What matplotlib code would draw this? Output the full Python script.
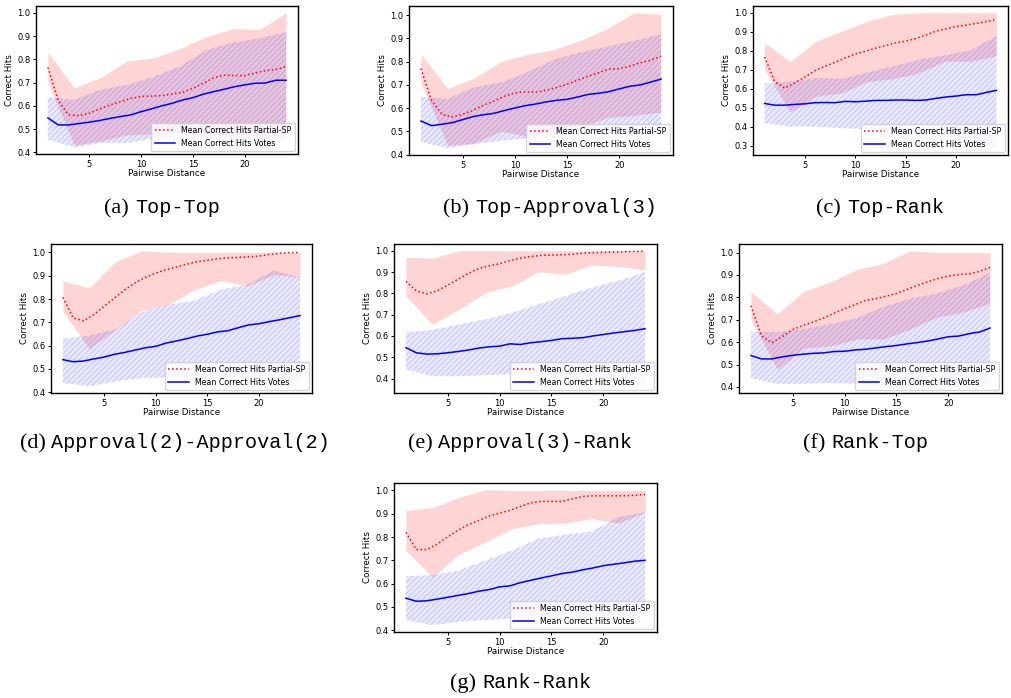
import numpy as np
import matplotlib
matplotlib.use('Agg')
import matplotlib.pyplot as plt

fig_w, fig_h = 1012, 698

distance = np.arange(1, 25)
band_distance = np.linspace(1, 24, 10)

# (a) Top-Top
a_sp_mean = [0.765, 0.622, 0.561, 0.558, 0.568, 0.587, 0.604, 0.618, 0.632, 0.640, 0.642, 0.644,
             0.651, 0.658, 0.675, 0.697, 0.720, 0.732, 0.730, 0.730, 0.741, 0.751, 0.756, 0.768]
a_sp_upper = [0.830, 0.677, 0.722, 0.793, 0.806, 0.846, 0.897, 0.932, 0.927, 1.000]
a_sp_lower = [0.700, 0.430, 0.450, 0.475, 0.480, 0.490, 0.480, 0.470, 0.460, 0.455]
a_votes_mean = [0.548, 0.518, 0.518, 0.524, 0.530, 0.537, 0.546, 0.554, 0.561, 0.575, 0.587, 0.600,
                0.611, 0.625, 0.635, 0.650, 0.661, 0.671, 0.682, 0.690, 0.697, 0.698, 0.710, 0.710]
a_votes_upper = [0.638, 0.625, 0.670, 0.690, 0.725, 0.770, 0.840, 0.872, 0.890, 0.917]
a_votes_lower = [0.455, 0.422, 0.440, 0.440, 0.460, 0.470, 0.470, 0.470, 0.470, 0.460]

# (b) Top-Approval(3)
b_sp_mean = [0.770, 0.634, 0.574, 0.562, 0.574, 0.591, 0.613, 0.631, 0.651, 0.666, 0.670, 0.669,
             0.677, 0.689, 0.703, 0.720, 0.737, 0.752, 0.768, 0.770, 0.780, 0.795, 0.806, 0.824]
b_sp_upper = [0.832, 0.684, 0.730, 0.800, 0.831, 0.852, 0.892, 0.943, 1.010, 1.003]
b_sp_lower = [0.710, 0.440, 0.450, 0.500, 0.480, 0.500, 0.520, 0.560, 0.570, 0.583]
b_votes_mean = [0.545, 0.525, 0.531, 0.538, 0.551, 0.564, 0.572, 0.578, 0.590, 0.601, 0.611, 0.618,
                0.627, 0.634, 0.638, 0.648, 0.659, 0.664, 0.671, 0.683, 0.694, 0.700, 0.712, 0.725]
b_votes_upper = [0.648, 0.640, 0.690, 0.710, 0.755, 0.810, 0.840, 0.865, 0.890, 0.918]
b_votes_lower = [0.455, 0.428, 0.445, 0.460, 0.470, 0.480, 0.490, 0.500, 0.500, 0.495]

# (c) Top-Rank
c_sp_mean = [0.767, 0.638, 0.603, 0.630, 0.661, 0.695, 0.718, 0.739, 0.762, 0.783, 0.797, 0.813,
             0.827, 0.841, 0.850, 0.864, 0.882, 0.903, 0.915, 0.928, 0.935, 0.944, 0.954, 0.965]
c_sp_upper = [0.841, 0.743, 0.850, 0.903, 0.956, 0.991, 1.000, 1.000, 1.000, 1.000]
c_sp_lower = [0.700, 0.476, 0.560, 0.577, 0.638, 0.652, 0.683, 0.744, 0.744, 0.774]
c_votes_mean = [0.522, 0.513, 0.513, 0.517, 0.520, 0.526, 0.527, 0.526, 0.533, 0.531, 0.534, 0.538,
                0.538, 0.540, 0.540, 0.538, 0.540, 0.549, 0.556, 0.561, 0.568, 0.568, 0.580, 0.591]
c_votes_upper = [0.626, 0.638, 0.656, 0.652, 0.686, 0.718, 0.753, 0.776, 0.802, 0.877]
c_votes_lower = [0.418, 0.400, 0.400, 0.392, 0.386, 0.375, 0.360, 0.335, 0.310, 0.286]

# (d) Approval(2)-Approval(2)
d_sp_mean = [0.807, 0.719, 0.706, 0.733, 0.769, 0.804, 0.840, 0.869, 0.893, 0.911, 0.926, 0.937,
             0.949, 0.960, 0.966, 0.973, 0.976, 0.979, 0.981, 0.984, 0.991, 0.996, 0.999, 0.999]
d_sp_upper = [0.879, 0.847, 0.961, 1.007, 1.000, 1.000, 1.000, 1.000, 1.000, 1.000]
d_sp_lower = [0.747, 0.587, 0.669, 0.750, 0.776, 0.840, 0.880, 0.856, 0.905, 0.893]
d_votes_mean = [0.540, 0.531, 0.534, 0.543, 0.551, 0.563, 0.571, 0.581, 0.591, 0.597, 0.611, 0.620,
                0.630, 0.641, 0.649, 0.659, 0.664, 0.677, 0.689, 0.694, 0.703, 0.711, 0.720, 0.729]
d_votes_upper = [0.630, 0.643, 0.671, 0.743, 0.776, 0.794, 0.840, 0.861, 0.922, 0.893]
d_votes_lower = [0.440, 0.426, 0.447, 0.461, 0.464, 0.460, 0.460, 0.460, 0.455, 0.447]

# (e) Approval(3)-Rank
e_sp_mean = [0.856, 0.812, 0.797, 0.812, 0.838, 0.866, 0.893, 0.917, 0.929, 0.939, 0.954, 0.965,
             0.973, 0.978, 0.980, 0.981, 0.984, 0.989, 0.991, 0.992, 0.994, 0.995, 0.997, 0.997]
e_sp_upper = [0.970, 0.965, 1.000, 1.000, 1.000, 1.000, 1.000, 1.000, 1.000, 1.000]
e_sp_lower = [0.788, 0.654, 0.725, 0.804, 0.835, 0.901, 0.890, 0.934, 0.926, 0.910]
e_votes_mean = [0.545, 0.521, 0.515, 0.516, 0.521, 0.527, 0.534, 0.543, 0.549, 0.552, 0.563, 0.560,
                0.568, 0.573, 0.579, 0.587, 0.589, 0.592, 0.600, 0.607, 0.614, 0.620, 0.626, 0.634]
e_votes_upper = [0.618, 0.628, 0.654, 0.678, 0.709, 0.749, 0.788, 0.827, 0.859, 0.901]
e_votes_lower = [0.442, 0.411, 0.411, 0.416, 0.420, 0.410, 0.400, 0.390, 0.380, 0.364]

# (f) Rank-Top
f_sp_mean = [0.762, 0.629, 0.597, 0.624, 0.656, 0.674, 0.690, 0.708, 0.729, 0.749, 0.767, 0.786,
             0.794, 0.805, 0.817, 0.835, 0.853, 0.869, 0.884, 0.895, 0.902, 0.905, 0.916, 0.934]
f_sp_upper = [0.824, 0.726, 0.827, 0.869, 0.925, 0.952, 1.008, 1.000, 1.000, 1.000]
f_sp_lower = [0.700, 0.478, 0.573, 0.583, 0.614, 0.614, 0.659, 0.711, 0.734, 0.774]
f_votes_mean = [0.540, 0.525, 0.525, 0.534, 0.541, 0.546, 0.550, 0.552, 0.558, 0.559, 0.565, 0.568,
                0.574, 0.580, 0.585, 0.592, 0.598, 0.605, 0.614, 0.624, 0.627, 0.638, 0.645, 0.663]
f_votes_upper = [0.648, 0.644, 0.659, 0.681, 0.708, 0.759, 0.794, 0.817, 0.854, 0.910]
f_votes_lower = [0.438, 0.414, 0.414, 0.418, 0.414, 0.410, 0.410, 0.408, 0.405, 0.403]

# (g) Rank-Rank
g_sp_mean = [0.820, 0.746, 0.746, 0.769, 0.800, 0.829, 0.853, 0.871, 0.890, 0.903, 0.914, 0.931,
             0.947, 0.953, 0.953, 0.953, 0.964, 0.974, 0.977, 0.977, 0.977, 0.977, 0.979, 0.983]
g_sp_upper = [0.914, 0.926, 0.971, 1.003, 1.000, 1.000, 1.000, 1.000, 1.000, 1.000]
g_sp_lower = [0.743, 0.626, 0.726, 0.779, 0.836, 0.857, 0.860, 0.879, 0.860, 0.907]
g_votes_mean = [0.537, 0.524, 0.526, 0.533, 0.541, 0.549, 0.557, 0.567, 0.574, 0.586, 0.590, 0.604,
                0.614, 0.624, 0.633, 0.643, 0.649, 0.659, 0.667, 0.677, 0.683, 0.689, 0.696, 0.700]
g_votes_upper = [0.631, 0.636, 0.657, 0.700, 0.743, 0.793, 0.810, 0.824, 0.886, 0.907]
g_votes_lower = [0.443, 0.421, 0.436, 0.443, 0.450, 0.450, 0.450, 0.450, 0.455, 0.457]

tags = ['(a)', '(b)', '(c)', '(d)', '(e)', '(f)', '(g)']
names = ['Top-Top', 'Top-Approval(3)', 'Top-Rank', 'Approval(2)-Approval(2)',
         'Approval(3)-Rank', 'Rank-Top', 'Rank-Rank']

# axes boxes in pixels: left, top, right, bottom
boxes = [(36, 6, 298, 154), (409, 6, 673, 155), (753, 6, 1008, 155),
         (51, 244, 312, 393), (394, 244, 657, 393), (739, 244, 1002, 393),
         (394, 483, 657, 632)]
# caption centre x and baseline y, in pixels
captions = [(162, 213), (550, 213), (880, 213),
            (175, 448), (520, 448), (866, 448),
            (521, 688)]

series = [
    (a_sp_mean, a_sp_lower, a_sp_upper, a_votes_mean, a_votes_lower, a_votes_upper),
    (b_sp_mean, b_sp_lower, b_sp_upper, b_votes_mean, b_votes_lower, b_votes_upper),
    (c_sp_mean, c_sp_lower, c_sp_upper, c_votes_mean, c_votes_lower, c_votes_upper),
    (d_sp_mean, d_sp_lower, d_sp_upper, d_votes_mean, d_votes_lower, d_votes_upper),
    (e_sp_mean, e_sp_lower, e_sp_upper, e_votes_mean, e_votes_lower, e_votes_upper),
    (f_sp_mean, f_sp_lower, f_sp_upper, f_votes_mean, f_votes_lower, f_votes_upper),
    (g_sp_mean, g_sp_lower, g_sp_upper, g_votes_mean, g_votes_lower, g_votes_upper),
]

plt.rcParams['hatch.linewidth'] = 0.6

fig = plt.figure(figsize=(fig_w / 100, fig_h / 100), dpi=100)
renderer = fig.canvas.get_renderer()

for i, (sp_mean, sp_lo, sp_hi, v_mean, v_lo, v_hi) in enumerate(series):
    l, t, r, b = boxes[i]
    ax = fig.add_axes([l / fig_w, 1 - b / fig_h, (r - l) / fig_w, (b - t) / fig_h])
    ax.fill_between(band_distance, sp_lo, sp_hi, color='red', alpha=0.17, linewidth=0)
    ax.fill_between(band_distance, v_lo, v_hi, facecolor=(0.3, 0.3, 1.0, 0.12),
                    edgecolor=(0.35, 0.35, 1.0, 0.3), hatch='//////', linewidth=0)
    ax.plot(distance, sp_mean, color='red', linestyle=':', linewidth=1.1,
            label='Mean Correct Hits Partial-SP')
    ax.plot(distance, v_mean, color='blue', linewidth=1.1, label='Mean Correct Hits Votes')
    ax.set_xticks([5, 10, 15, 20])
    ax.tick_params(labelsize=6, length=2.5, width=0.7, pad=1.5)
    ax.set_xlabel('Pairwise Distance', fontsize=6.3, labelpad=0.5)
    ax.set_ylabel('Correct Hits', fontsize=6.3, labelpad=2)
    for s in ax.spines.values():
        s.set_linewidth(1.0)
    ax.legend(loc='lower right', fontsize=5.7, handlelength=2.6, borderaxespad=0.4)

    # caption: serif tag followed by the typewriter name, centred as a pair
    cx, by = captions[i]
    tag = fig.text(0, 1 - by / fig_h, tags[i], fontsize=16, family='Liberation Serif',
                   ha='left', va='baseline')
    name = fig.text(0, 1 - by / fig_h, names[i], fontsize=14.5, family='Liberation Mono',
                    ha='left', va='baseline')
    tw = tag.get_window_extent(renderer).width
    nw = name.get_window_extent(renderer).width
    gap = 6
    x0 = cx - (tw + gap + nw) / 2
    tag.set_x(x0 / fig_w)
    name.set_x((x0 + tw + gap) / fig_w)

fig.savefig('out.png', dpi=100)
plt.close()
